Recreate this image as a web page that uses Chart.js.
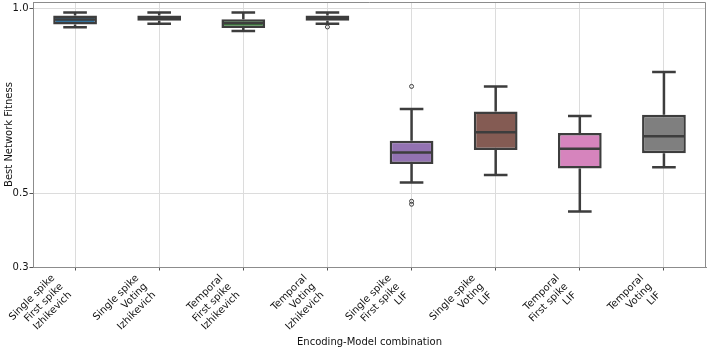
<!DOCTYPE html>
<html>
<head>
<meta charset="utf-8">
<script src="https://cdn.jsdelivr.net/npm/chart.js@4.4.1/dist/chart.umd.min.js"></script>
<style>
  body { margin: 0; background: #fff; }
  #wrap { width: 708px; height: 351px; }
</style>
</head>
<body>
<div id="wrap"><canvas id="boxChart"></canvas></div>
<script>
// categories (encoding / decoding / neuron model)
const categories = [
    ['Single spike', 'First spike', 'Izhikevich'],
    ['Single spike', 'Voting', 'Izhikevich'],
    ['Temporal', 'First spike', 'Izhikevich'],
    ['Temporal', 'Voting', 'Izhikevich'],
    ['Single spike', 'First spike', 'LIF'],
    ['Single spike', 'Voting', 'LIF'],
    ['Temporal', 'First spike', 'LIF'],
    ['Temporal', 'Voting', 'LIF']
];
// box statistics
const whiskerLow  = [0.949, 0.959, 0.939, 0.959, 0.529, 0.549, 0.450, 0.570];
const q1          = [0.957, 0.967, 0.947, 0.967, 0.579, 0.617, 0.567, 0.608];
const median      = [0.970, 0.974, 0.960, 0.974, 0.610, 0.665, 0.620, 0.654];
const q3          = [0.981, 0.981, 0.971, 0.981, 0.642, 0.721, 0.663, 0.712];
const whiskerHigh = [0.989, 0.989, 0.989, 0.989, 0.728, 0.789, 0.709, 0.828];
const outliers    = [[], [], [], [0.950], [0.789, 0.478, 0.470], [], [], []];
const yTicks = [0.3, 0.5, 1.0];

const boxColors = ['#3274a1', '#e1812c', '#3a923a', '#c03d3e', '#9372b2', '#845b53', '#d684bd', '#7f7f7f'];
const edgeColor = '#3d3d3d';
const textColor = '#111111';

Chart.defaults.font.family = 'DejaVu Sans';
Chart.defaults.font.size = 10;
Chart.defaults.color = textColor;

// whiskers, medians, fliers, rotated tick labels and the top/right frame
const boxPlugin = {
    id: 'boxExtras',
    beforeDatasetsDraw(chart) {
        const ctx = chart.ctx;
        const y = chart.scales.y;
        const bars = chart.getDatasetMeta(0).data;
        ctx.save();
        ctx.strokeStyle = edgeColor;
        ctx.lineWidth = 2.5;
        bars.forEach((bar, i) => {
            const cap = bar.width * 0.27;
            const segs = [[q3[i], whiskerHigh[i]], [q1[i], whiskerLow[i]]];
            segs.forEach(([from, to]) => {
                ctx.beginPath();
                ctx.moveTo(bar.x, y.getPixelForValue(from));
                ctx.lineTo(bar.x, y.getPixelForValue(to));
                ctx.moveTo(bar.x - cap, y.getPixelForValue(to));
                ctx.lineTo(bar.x + cap, y.getPixelForValue(to));
                ctx.stroke();
            });
        });
        ctx.restore();
    },
    afterDatasetsDraw(chart) {
        const ctx = chart.ctx;
        const y = chart.scales.y;
        const bars = chart.getDatasetMeta(0).data;
        ctx.save();
        ctx.strokeStyle = edgeColor;
        bars.forEach((bar, i) => {
            const half = bar.width / 2 - 1;
            ctx.lineWidth = 2.5;
            ctx.beginPath();
            ctx.moveTo(bar.x - half, y.getPixelForValue(median[i]));
            ctx.lineTo(bar.x + half, y.getPixelForValue(median[i]));
            ctx.stroke();
            ctx.lineWidth = 1;
            outliers[i].forEach(v => {
                ctx.beginPath();
                ctx.arc(bar.x, y.getPixelForValue(v), 2, 0, Math.PI * 2);
                ctx.stroke();
            });
        });
        ctx.restore();
    },
    afterDraw(chart) {
        const ctx = chart.ctx;
        const area = chart.chartArea;
        const x = chart.scales.x;
        ctx.save();
        // top and right spines
        ctx.strokeStyle = '#8c8c8c';
        ctx.lineWidth = 1;
        ctx.beginPath();
        ctx.moveTo(area.left, area.top + 0.5);
        ctx.lineTo(area.right - 0.5, area.top + 0.5);
        ctx.lineTo(area.right - 0.5, area.bottom);
        ctx.stroke();

        // x tick labels, rotated 45deg, right aligned like matplotlib
        ctx.font = '10px "DejaVu Sans"';
        ctx.fillStyle = textColor;
        ctx.textAlign = 'right';
        ctx.textBaseline = 'top';
        const lh = 12;
        const y0 = area.bottom + 6;
        categories.forEach((lines, i) => {
            const w = Math.max(...lines.map(l => ctx.measureText(l).width));
            const h = lines.length * lh;
            const tx = x.getPixelForTick(i) - (w + h) / Math.SQRT2;
            const ty = y0 + w / Math.SQRT2;
            ctx.save();
            ctx.translate(tx, ty);
            ctx.rotate(-Math.PI / 4);
            lines.forEach((l, j) => ctx.fillText(l, w, j * lh));
            ctx.restore();
        });
        ctx.restore();
    }
};

new Chart(document.getElementById('boxChart'), {
    type: 'bar',
    data: {
        labels: categories,
        datasets: [{
            data: q1.map((v, i) => [v, q3[i]]),
            backgroundColor: boxColors,
            borderColor: edgeColor,
            borderWidth: 2.5,
            borderSkipped: false,
            barPercentage: 0.52,
            categoryPercentage: 1.0
        }]
    },
    options: {
        responsive: true,
        maintainAspectRatio: false,
        animation: false,
        layout: { padding: { top: 2, right: 2, left: 0, bottom: 0 } },
        plugins: {
            legend: { display: false },
            tooltip: { enabled: false }
        },
        scales: {
            x: {
                grid: { color: '#dcdcdc', offset: false, drawTicks: true, tickLength: 3.5, tickColor: '#555' },
                border: { color: '#8c8c8c' },
                ticks: { display: false },
                title: {
                    display: true,
                    text: 'Encoding-Model combination',
                    font: { size: 10 },
                    padding: { top: 0, bottom: 3 }
                },
                afterFit: s => { s.height = 84; }
            },
            y: {
                type: 'linear',
                min: 0.3,
                max: 1.0176,
                grid: { color: '#dcdcdc', drawTicks: true, tickLength: 3.5, tickColor: '#555' },
                border: { color: '#8c8c8c' },
                afterBuildTicks: s => { s.ticks = yTicks.map(v => ({ value: v })); },
                ticks: {
                    padding: 1,
                    font: { size: 10 },
                    callback: v => v.toFixed(1)
                },
                title: {
                    display: true,
                    text: 'Best Network Fitness',
                    font: { size: 10 },
                    padding: { top: 3, bottom: 0 }
                },
                afterFit: s => {
                    s.width = 33;
                    s.paddingTop = 0;
                    s.paddingBottom = 0;
                }
            }
        }
    },
    plugins: [boxPlugin]
});
</script>
</body>
</html>
